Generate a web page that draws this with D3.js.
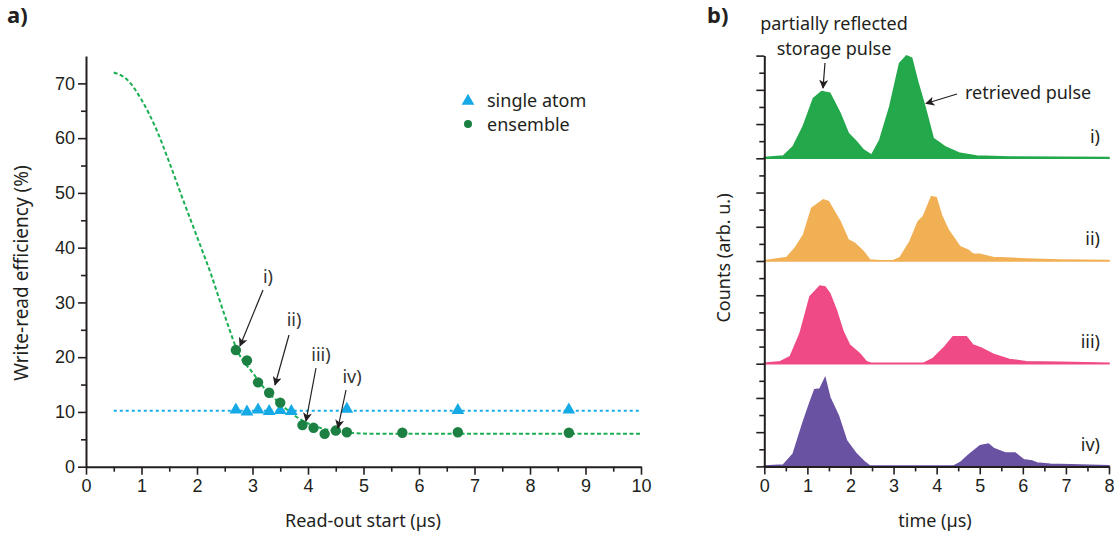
<!DOCTYPE html>
<html>
<head>
<meta charset="utf-8">
<script src="https://cdn.jsdelivr.net/npm/d3@7"></script>
<style>
  html, body { margin: 0; padding: 0; background: #fff; }
  svg { display: block; font-family: "Noto Sans", sans-serif; }
  text { fill: #231f20; }
</style>
</head>
<body>
<svg id="fig" width="1115" height="538"></svg>
<script>
// ---- panel a) data: write-read efficiency vs read-out start ----
const ensembleX = [2.7, 2.9, 3.1, 3.3, 3.5, 3.9, 4.1, 4.3, 4.5, 4.7, 5.7, 6.7, 8.7];
const ensembleY = [21.3, 19.4, 15.4, 13.5, 11.7, 7.6, 7.1, 6.0, 6.6, 6.3, 6.2, 6.3, 6.2];
const singleX = [2.7, 2.9, 3.1, 3.3, 3.5, 3.7, 4.7, 6.7, 8.7];
const singleY = [10.4, 10.0, 10.4, 10.1, 10.3, 10.1, 10.5, 10.3, 10.4];
const singleLevel = 10.2;
const fitX = [0.5, 0.75, 1.0, 1.25, 1.5, 1.75, 2.0, 2.25, 2.5, 2.75, 3.0, 3.25, 3.5, 3.75, 4.0, 4.25, 4.5, 4.75, 5.0, 5.5, 6, 7, 8, 9, 10];
const fitY = [72, 70.6, 67, 62, 55.6, 48.7, 42, 35.2, 27.6, 20.7, 17.2, 13.9, 11.5, 9.4, 7.9, 7.0, 6.5, 6.2, 6.05, 6.0, 6.0, 6.0, 6.0, 6.0, 6.0];
const xTicksA = [0, 1, 2, 3, 4, 5, 6, 7, 8, 9, 10];
const yTicksA = [0, 10, 20, 30, 40, 50, 60, 70];
const seriesNames = ["single atom", "ensemble"];
const traceLabels = ["i)", "ii)", "iii)", "iv)"];

// ---- panel b) data: photon counts vs time, one trace per read-out start ----
const traceI = [[0,0.05],[0.44,0.13],[0.67,0.68],[0.9,1.85],[1.14,3.5],[1.33,3.9],[1.52,3.8],[1.76,2.63],[1.95,1.46],[2.14,0.97],[2.3,0.49],[2.49,0.19],[2.68,1.07],[2.91,3.0],[3.14,5.55],[3.3,5.98],[3.42,5.85],[3.57,4.38],[3.73,3.0],[3.92,1.17],[4.19,0.68],[4.54,0.29],[4.93,0.13],[5.7,0.08],[8,0.05]];
const traceII = [[0,0.02],[0.29,0.12],[0.52,0.2],[0.71,0.74],[0.91,1.52],[1.1,3.08],[1.37,3.57],[1.49,3.47],[1.76,2.3],[1.95,1.23],[2.1,1.03],[2.3,0.55],[2.45,0.06],[2.68,0.02],[2.99,0.02],[3.15,0.2],[3.38,1.13],[3.57,2.3],[3.69,2.6],[3.88,3.76],[3.99,3.7],[4.11,2.69],[4.27,1.81],[4.54,0.84],[4.73,0.64],[4.85,0.39],[5.0,0.39],[5.31,0.2],[6.08,0.12],[6.86,0.06],[8,0.03]];
const traceIII = [[0,0.03],[0.37,0.12],[0.6,0.41],[0.83,1.77],[1.06,3.92],[1.29,4.54],[1.41,4.48],[1.52,4.1],[1.67,3.14],[1.83,1.87],[1.98,1.09],[2.21,0.6],[2.37,0.12],[2.49,0.02],[3.69,0.02],[3.92,0.31],[4.19,0.99],[4.38,1.58],[4.69,1.58],[4.84,1.09],[5.04,0.9],[5.31,0.55],[5.69,0.25],[6.08,0.12],[6.86,0.08],[8,0.03]];
const traceIV = [[0,0.03],[0.44,0.08],[0.67,0.72],[0.9,2.57],[1.06,3.74],[1.17,4.48],[1.29,4.52],[1.41,5.15],[1.52,4.04],[1.72,2.96],[1.91,1.5],[2.14,0.72],[2.34,0.23],[2.45,0.02],[4.39,0.02],[4.55,0.23],[4.74,0.66],[5.01,1.21],[5.2,1.31],[5.32,1.05],[5.59,0.78],[5.82,0.78],[6.02,0.39],[6.21,0.31],[6.33,0.2],[6.64,0.12],[8,0.04]];
const traceColors = ["#23a84b", "#f2b055", "#ef4a86", "#6a52a2"];
const xTicksB = [0, 1, 2, 3, 4, 5, 6, 7, 8];

const ink = "#231f20";
const svg = d3.select("#fig");

// arrow head marker
svg.append("defs").append("marker")
  .attr("id", "head").attr("viewBox", "0 0 10 10")
  .attr("refX", 9).attr("refY", 5)
  .attr("markerWidth", 9).attr("markerHeight", 9)
  .attr("markerUnits", "userSpaceOnUse")
  .attr("orient", "auto")
  .append("path").attr("d", "M0,0 L10,5 L0,10 L2.5,5 Z").attr("fill", ink);

function styleAxis(g) {
  g.selectAll("path.domain").attr("stroke", ink).attr("stroke-width", 2);
  g.selectAll(".tick line").attr("stroke", ink).attr("stroke-width", 1.6);
  g.selectAll(".tick text").attr("font-size", 18).style("fill", ink);
}

// ================= panel a) =================
const xA = d3.scaleLinear().domain([0, 10]).range([86, 641]);
const yA = d3.scaleLinear().domain([0, 75]).range([466.7, 56]);

// minor ticks
svg.append("g").attr("transform", `translate(0,${yA(0)})`)
  .call(d3.axisBottom(xA).tickValues(d3.range(0.5, 10, 1)).tickSize(5).tickFormat("").tickSizeOuter(0))
  .call(g => { g.select(".domain").remove(); g.selectAll("line").attr("stroke", ink).attr("stroke-width", 1.6); });
svg.append("g").attr("transform", `translate(${xA(0)},0)`)
  .call(d3.axisLeft(yA).tickValues(d3.range(5, 75, 10)).tickSize(5).tickFormat("").tickSizeOuter(0))
  .call(g => { g.select(".domain").remove(); g.selectAll("line").attr("stroke", ink).attr("stroke-width", 1.6); });

svg.append("g").attr("transform", `translate(0,${yA(0)})`)
  .call(d3.axisBottom(xA).tickValues(xTicksA).tickSize(8).tickPadding(5).tickSizeOuter(0))
  .call(styleAxis);
svg.append("g").attr("transform", `translate(${xA(0)},0)`)
  .call(d3.axisLeft(yA).tickValues(yTicksA).tickSize(8).tickPadding(3).tickSizeOuter(0))
  .call(styleAxis);

// single-atom level (dotted)
svg.append("line")
  .attr("x1", xA(0.5)).attr("x2", xA(10))
  .attr("y1", yA(singleLevel)).attr("y2", yA(singleLevel))
  .attr("stroke", "#14aee8").attr("stroke-width", 2).attr("stroke-dasharray", "3,3");

// ensemble fit (dashed)
const fitLine = d3.line().x(d => xA(d[0])).y(d => yA(d[1])).curve(d3.curveMonotoneX);
svg.append("path")
  .datum(fitX.map((x, i) => [x, fitY[i]]))
  .attr("d", fitLine)
  .attr("fill", "none").attr("stroke", "#1aaf52").attr("stroke-width", 2).attr("stroke-dasharray", "4,2.5");

// markers
const tri = d3.symbol().type(d3.symbolTriangle).size(70);
svg.append("g").selectAll("path")
  .data(singleX.map((x, i) => [x, singleY[i]]))
  .join("path")
  .attr("transform", d => `translate(${xA(d[0])},${yA(d[1])})`)
  .attr("d", tri).attr("fill", "#15a9e6");
svg.append("g").selectAll("circle")
  .data(ensembleX.map((x, i) => [x, ensembleY[i]]))
  .join("circle")
  .attr("cx", d => xA(d[0])).attr("cy", d => yA(d[1])).attr("r", 5.2)
  .attr("fill", "#1b8042");

// legend
const leg = svg.append("g").attr("font-size", 18);
leg.append("path").attr("transform", "translate(468,101)").attr("d", tri).attr("fill", "#15a9e6");
leg.append("circle").attr("cx", 468).attr("cy", 124).attr("r", 4).attr("fill", "#1b8042");
leg.append("text").attr("x", 487).attr("y", 107).text(seriesNames[0]);
leg.append("text").attr("x", 487).attr("y", 131).text(seriesNames[1]);

// trace annotations on the fit
const annA = [
  { label: traceLabels[0], tx: 268, ty: 283, from: [263, 290], to: [240, 346] },
  { label: traceLabels[1], tx: 294, ty: 326, from: [289, 335], to: [275, 385] },
  { label: traceLabels[2], tx: 321, ty: 361, from: [316, 368], to: [306, 421] },
  { label: traceLabels[3], tx: 352, ty: 383, from: [346, 390], to: [338, 428] }
];
annA.forEach(a => {
  svg.append("text").attr("x", a.tx).attr("y", a.ty).attr("text-anchor", "middle")
    .attr("font-size", 18).style("fill", "#333").text(a.label);
  svg.append("line").attr("x1", a.from[0]).attr("y1", a.from[1]).attr("x2", a.to[0]).attr("y2", a.to[1])
    .attr("stroke", ink).attr("stroke-width", 1.2).attr("marker-end", "url(#head)");
});

svg.append("text").attr("transform", "translate(28,273) rotate(-90)")
  .attr("text-anchor", "middle").attr("font-size", 19).text("Write-read efficiency (%)");
svg.append("text").attr("x", 363).attr("y", 527).attr("text-anchor", "middle")
  .attr("font-size", 18).text("Read-out start (\u00b5s)");
svg.append("text").attr("x", 7).attr("y", 23).attr("font-size", 22).attr("font-weight", "bold").text("a)");

// ================= panel b) =================
const xB = d3.scaleLinear().domain([0, 8]).range([764.3, 1109]);
const yB = d3.scaleLinear().domain([0, 24]).range([466.4, 55.6]);
const traces = [traceI, traceII, traceIII, traceIV];

traces.forEach((tr, k) => {
  const off = (3 - k) * 6;
  const area = d3.area().x(d => xB(d[0])).y0(yB(off)).y1(d => yB(off + d[1])).curve(d3.curveLinear);
  svg.append("path").datum(tr).attr("d", area)
    .attr("fill", traceColors[k]).attr("stroke", traceColors[k]).attr("stroke-width", 1.5);
  svg.append("text").attr("x", 1100).attr("y", yB(off + 0.92)).attr("text-anchor", "end")
    .attr("font-size", 18).text(traceLabels[k]);
});

// axes
svg.append("g").attr("transform", `translate(0,${yB(0)})`)
  .call(d3.axisBottom(xB).tickValues(d3.range(0.5, 8, 1)).tickSize(5).tickFormat("").tickSizeOuter(0))
  .call(g => { g.select(".domain").remove(); g.selectAll("line").attr("stroke", ink).attr("stroke-width", 1.6); });
svg.append("g").attr("transform", `translate(0,${yB(0)})`)
  .call(d3.axisBottom(xB).tickValues(xTicksB).tickSize(8).tickPadding(5).tickSizeOuter(0))
  .call(styleAxis);
svg.append("g").attr("transform", `translate(${xB(0)},0)`)
  .call(d3.axisLeft(yB).tickValues(d3.range(1, 24, 2)).tickSize(5).tickFormat("").tickSizeOuter(0))
  .call(g => { g.select(".domain").remove(); g.selectAll("line").attr("stroke", ink).attr("stroke-width", 1.6); });
svg.append("g").attr("transform", `translate(${xB(0)},0)`)
  .call(d3.axisLeft(yB).tickValues(d3.range(0, 25, 2)).tickSize(8).tickFormat("").tickSizeOuter(0))
  .call(styleAxis);

// pulse annotations
svg.append("text").attr("x", 834).attr("y", 30).attr("text-anchor", "middle").attr("font-size", 18).text("partially reflected");
svg.append("text").attr("x", 834).attr("y", 55).attr("text-anchor", "middle").attr("font-size", 18).text("storage pulse");
svg.append("line").attr("x1", 825).attr("y1", 63).attr("x2", 823).attr("y2", 88)
  .attr("stroke", ink).attr("stroke-width", 1.2).attr("marker-end", "url(#head)");
svg.append("text").attr("x", 965).attr("y", 99).attr("font-size", 18).text("retrieved pulse");
svg.append("line").attr("x1", 957).attr("y1", 94).attr("x2", 926).attr("y2", 103.5)
  .attr("stroke", ink).attr("stroke-width", 1.2).attr("marker-end", "url(#head)");

svg.append("text").attr("transform", "translate(730,258) rotate(-90)")
  .attr("text-anchor", "middle").attr("font-size", 18).text("Counts (arb. u.)");
svg.append("text").attr("x", 935).attr("y", 527).attr("text-anchor", "middle")
  .attr("font-size", 18).text("time (\u00b5s)");
svg.append("text").attr("x", 707).attr("y", 23).attr("font-size", 22).attr("font-weight", "bold").text("b)");
</script>
</body>
</html>
